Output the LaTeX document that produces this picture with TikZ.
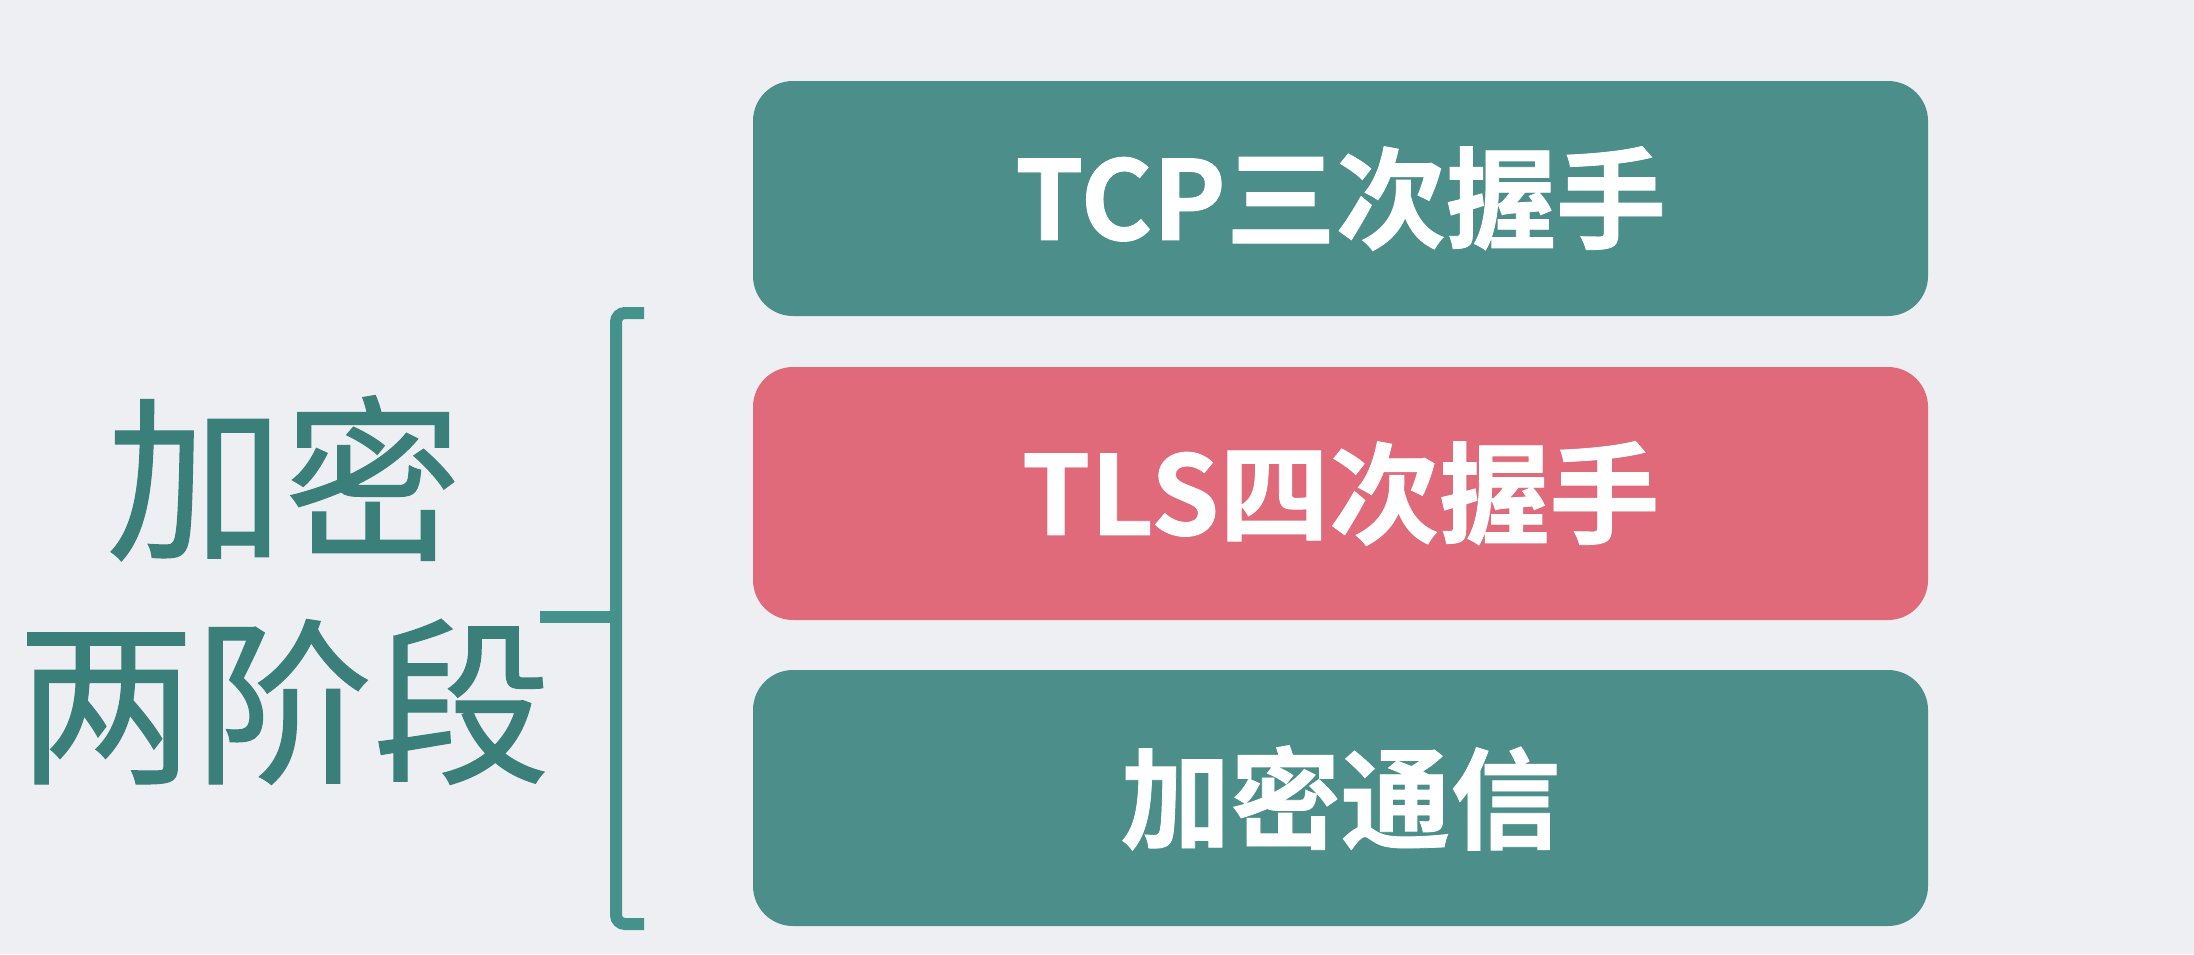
\documentclass[tikz,border=0pt]{standalone}
\usepackage{fontspec}
\newfontfamily\cjk[FakeBold=0.6]{Noto Sans CJK SC}
\newfontfamily\cjkb[FakeBold=0.7]{Noto Sans CJK SC Bold}
\definecolor{bgc}{HTML}{EEEFF3}
\definecolor{tealtxt}{HTML}{3B7F7A}
\definecolor{brkc}{HTML}{45918C}
\definecolor{tealbox}{HTML}{4C8F8A}
\definecolor{pinkbox}{HTML}{E06A7A}
\tikzset{
  stagebox/.style={rounded corners=40pt, inner sep=0pt, minimum width=1175pt, text=white,
    font=\cjkb\fontsize{110}{120}\selectfont},
  brk/.style={draw=brkc, line width=12pt, rounded corners=9pt},
  lefttext/.style={text=tealtxt, align=center, inner sep=0pt,
    font=\cjk\fontsize{178}{223}\selectfont}
}
\begin{document}
\begin{tikzpicture}[x=1pt,y=-1pt]
\fill[bgc] (0,0) rectangle (2194,954);
\useasboundingbox (0,0) rectangle (2194,954);
\node[stagebox, fill=tealbox, minimum height=235pt] (b1) at (1340.5,198.5) {TCP三次握手};
\node[stagebox, fill=pinkbox, minimum height=253pt] (b2) at (1340.5,493.5) {TLS四次握手};
\node[stagebox, fill=tealbox, minimum height=256pt] (b3) at (1340.5,798) {加密通信};
\node[lefttext] (title) at (284,590) {加密\\两阶段};
\coordinate (bt) at (644,313);
\coordinate (bb) at (644,924);
\coordinate (bm) at (616,617);
\coordinate (bl) at (540,617);
\draw[brk] (bt) -- (616,313) -- (616,924) -- (bb);
\draw[draw=brkc, line width=12pt] (bl) -- (bm);
\end{tikzpicture}
\end{document}
